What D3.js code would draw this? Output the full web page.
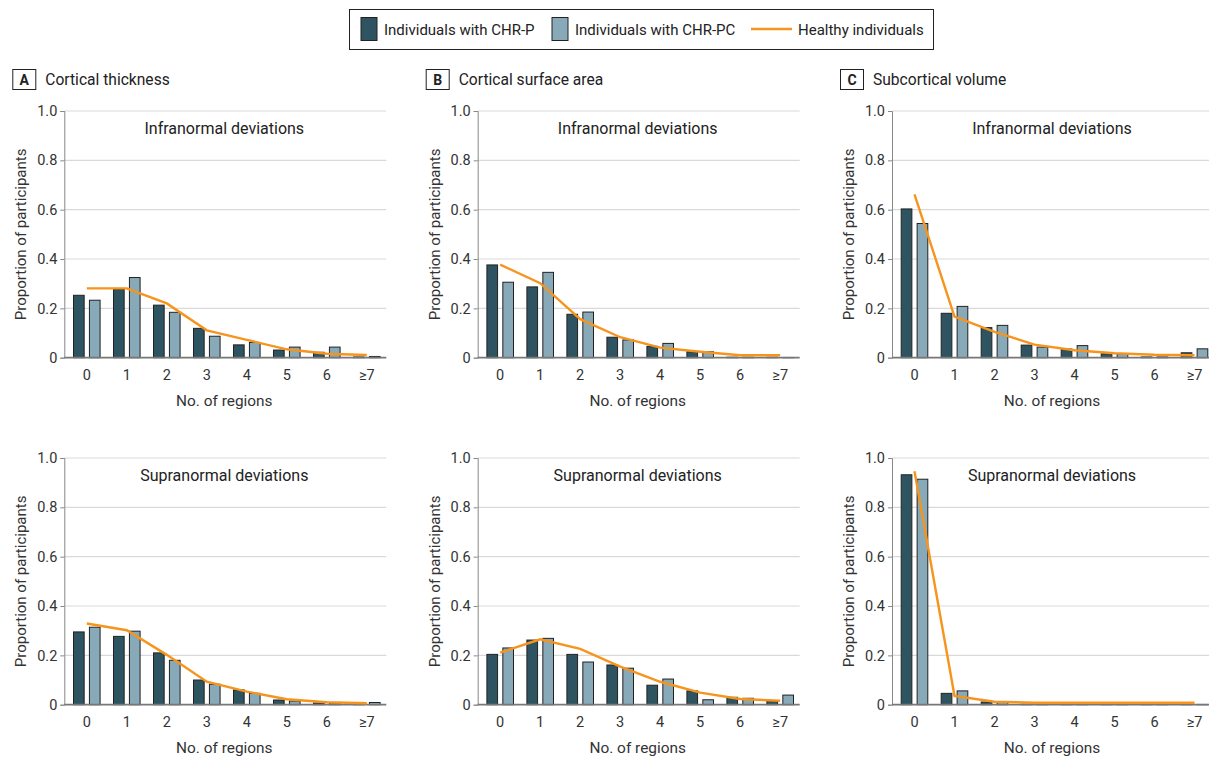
<!DOCTYPE html>
<html>
<head>
<meta charset="utf-8">
<script src="https://cdn.jsdelivr.net/npm/d3@7"></script>
<style>
  body { margin: 0; background: #fff; }
  svg { display: block; font-family: Roboto, "Noto Sans", sans-serif; }
</style>
</head>
<body>
<div id="chart"></div>
<script>
// categories
const categories = ["0", "1", "2", "3", "4", "5", "6", "≥7"];
const yTicks = [0, 0.2, 0.4, 0.6, 0.8, 1.0];

// A  cortical thickness
const thickInfraP       = [0.253, 0.277, 0.213, 0.119, 0.052, 0.031, 0.022, 0.003];
const thickInfraPC      = [0.233, 0.325, 0.184, 0.087, 0.062, 0.043, 0.043, 0.005];
const thickInfraHealthy = [0.281, 0.281, 0.220, 0.111, 0.072, 0.034, 0.016, 0.011];
const thickSupraP       = [0.295, 0.277, 0.210, 0.100, 0.060, 0.019, 0.007, 0.009];
const thickSupraPC      = [0.314, 0.298, 0.180, 0.083, 0.046, 0.015, 0.007, 0.009];
const thickSupraHealthy = [0.329, 0.302, 0.202, 0.093, 0.053, 0.022, 0.010, 0.006];

// B  cortical surface area
const areaInfraP       = [0.376, 0.287, 0.176, 0.083, 0.046, 0.024, 0.002, 0.002];
const areaInfraPC      = [0.306, 0.346, 0.185, 0.072, 0.058, 0.024, 0.002, 0.001];
const areaInfraHealthy = [0.377, 0.302, 0.156, 0.083, 0.041, 0.024, 0.010, 0.010];
const areaSupraP       = [0.204, 0.262, 0.204, 0.161, 0.079, 0.056, 0.030, 0.016];
const areaSupraPC      = [0.230, 0.269, 0.173, 0.148, 0.104, 0.020, 0.026, 0.039];
const areaSupraHealthy = [0.211, 0.265, 0.226, 0.154, 0.093, 0.049, 0.023, 0.016];

// C  subcortical volume
const subInfraP       = [0.603, 0.180, 0.122, 0.051, 0.035, 0.016, 0.003, 0.020];
const subInfraPC      = [0.544, 0.208, 0.131, 0.043, 0.049, 0.016, 0.003, 0.036];
const subInfraHealthy = [0.662, 0.167, 0.105, 0.053, 0.030, 0.018, 0.012, 0.010];
const subSupraP       = [0.932, 0.046, 0.011, 0.002, 0.002, 0.002, 0.002, 0.002];
const subSupraPC      = [0.914, 0.056, 0.012, 0.002, 0.002, 0.002, 0.002, 0.001];
const subSupraHealthy = [0.946, 0.036, 0.012, 0.008, 0.008, 0.008, 0.008, 0.008];

const panelTitles = [["A", "Cortical thickness"], ["B", "Cortical surface area"], ["C", "Subcortical volume"]];
const rowTitles = ["Infranormal deviations", "Supranormal deviations"];
const seriesNames = ["Individuals with CHR-P", "Individuals with CHR-PC", "Healthy individuals"];

const panels = [
  [[thickInfraP, thickInfraPC, thickInfraHealthy], [thickSupraP, thickSupraPC, thickSupraHealthy]],
  [[areaInfraP, areaInfraPC, areaInfraHealthy], [areaSupraP, areaSupraPC, areaSupraHealthy]],
  [[subInfraP, subInfraPC, subInfraHealthy], [subSupraP, subSupraPC, subSupraHealthy]]
];

const colP = "#2e5461", colPC = "#87a9b8", colH = "#f7941d", edge = "#222";

const W = 1209, H = 757;
const svg = d3.select("#chart").append("svg").attr("width", W).attr("height", H);

const colX = [64.3, 477.7, 892];
const rowY = [111, 458];
const pw = 322, ph = 246.7;

const x = d3.scaleBand().domain(categories).range([2.5, 322.5]);
const sub = d3.scaleBand().domain(["p", "pc"]).range([6.7, 33.3]).paddingInner(0.33);
const y = d3.scaleLinear().domain([0, 1]).range([ph, 0]);

// legend
const leg = svg.append("g");
leg.append("rect").attr("x", 349.5).attr("y", 9.5).attr("width", 584).attr("height", 40)
  .attr("fill", "none").attr("stroke", "#222").attr("stroke-width", 1);
leg.append("rect").attr("x", 361).attr("y", 17.5).attr("width", 16).attr("height", 23)
  .attr("fill", colP).attr("stroke", edge);
leg.append("text").attr("x", 384).attr("y", 34.5).attr("font-size", 15).attr("fill", "#222").text(seriesNames[0]);
leg.append("rect").attr("x", 552).attr("y", 17.5).attr("width", 16).attr("height", 23)
  .attr("fill", colPC).attr("stroke", edge);
leg.append("text").attr("x", 575).attr("y", 34.5).attr("font-size", 15).attr("fill", "#222").text(seriesNames[1]);
leg.append("line").attr("x1", 751).attr("x2", 792).attr("y1", 29).attr("y2", 29)
  .attr("stroke", colH).attr("stroke-width", 2.5);
leg.append("text").attr("x", 798).attr("y", 34.5).attr("font-size", 15).attr("fill", "#222").text(seriesNames[2]);

panels.forEach((rows, ci) => {
  const px = colX[ci];

  // panel title
  const t = svg.append("g").attr("transform", `translate(${px},0)`);
  t.append("rect").attr("x", -51.5).attr("y", 69.5).attr("width", 23).attr("height", 20)
    .attr("fill", "none").attr("stroke", "#222");
  t.append("text").attr("x", -40).attr("y", 84.5).attr("text-anchor", "middle")
    .attr("font-size", 14).attr("font-weight", "bold").attr("fill", "#222").text(panelTitles[ci][0]);
  t.append("text").attr("x", -19).attr("y", 84.5).attr("font-size", 15.6).attr("fill", "#222").text(panelTitles[ci][1]);

  rows.forEach((series, ri) => {
    const g = svg.append("g").attr("transform", `translate(${px},${rowY[ri]})`);

    // gridlines
    g.append("g").selectAll("line").data(yTicks.filter(d => d > 0)).join("line")
      .attr("x1", 0).attr("x2", pw)
      .attr("y1", d => y(d)).attr("y2", d => y(d))
      .attr("stroke", "#d9d9d9").attr("stroke-width", 1.2);

    // y axis
    const ya = g.append("g").call(d3.axisLeft(y).tickValues(yTicks).tickSize(4).tickPadding(3)
      .tickFormat(d => d === 0 ? "0" : d3.format(".1f")(d)));
    ya.select(".domain").attr("stroke", "#888");
    ya.selectAll(".tick line").attr("stroke", "#888");
    ya.selectAll("text").attr("font-size", 14.5).attr("fill", "#333").attr("font-family", "Roboto, sans-serif");

    g.append("text").attr("transform", `translate(-38,${ph / 2}) rotate(-90)`)
      .attr("text-anchor", "middle").attr("font-size", 15).attr("fill", "#333")
      .text("Proportion of participants");

    // row subtitle
    g.append("text").attr("x", pw / 2 - 1).attr("y", 22.5).attr("text-anchor", "middle")
      .attr("font-size", 16).attr("fill", "#222").text(rowTitles[ri]);

    // bars
    const keyed = categories.map((c, i) => ({ c, p: series[0][i], pc: series[1][i], h: series[2][i] }));
    const grp = g.append("g").selectAll("g").data(keyed).join("g")
      .attr("transform", d => `translate(${x(d.c)},0)`);
    grp.append("rect").attr("x", sub("p")).attr("width", sub.bandwidth())
      .attr("y", d => y(d.p)).attr("height", d => ph - y(d.p))
      .attr("fill", colP).attr("stroke", edge).attr("stroke-width", 1);
    grp.append("rect").attr("x", sub("pc")).attr("width", sub.bandwidth())
      .attr("y", d => y(d.pc)).attr("height", d => ph - y(d.pc))
      .attr("fill", colPC).attr("stroke", edge).attr("stroke-width", 1);

    // baseline
    g.append("line").attr("x1", 0).attr("x2", pw).attr("y1", ph).attr("y2", ph)
      .attr("stroke", "#777").attr("stroke-width", 1.8);

    // healthy line
    const line = d3.line().x(d => x(d.c) + x.bandwidth() / 2).y(d => y(d.h));
    g.append("path").datum(keyed).attr("d", line)
      .attr("fill", "none").attr("stroke", colH).attr("stroke-width", 2.4);

    // x axis labels
    const xa = g.append("g").attr("transform", `translate(0,${ph})`)
      .call(d3.axisBottom(x).tickSize(0).tickPadding(12));
    xa.select(".domain").remove();
    xa.selectAll("text").attr("font-size", 14.5).attr("fill", "#333").attr("font-family", "Roboto, sans-serif");

    g.append("text").attr("x", pw / 2 - 1).attr("y", ph + 48).attr("text-anchor", "middle")
      .attr("font-size", 15.4).attr("fill", "#333").text("No. of regions");
  });
});
</script>
</body>
</html>
